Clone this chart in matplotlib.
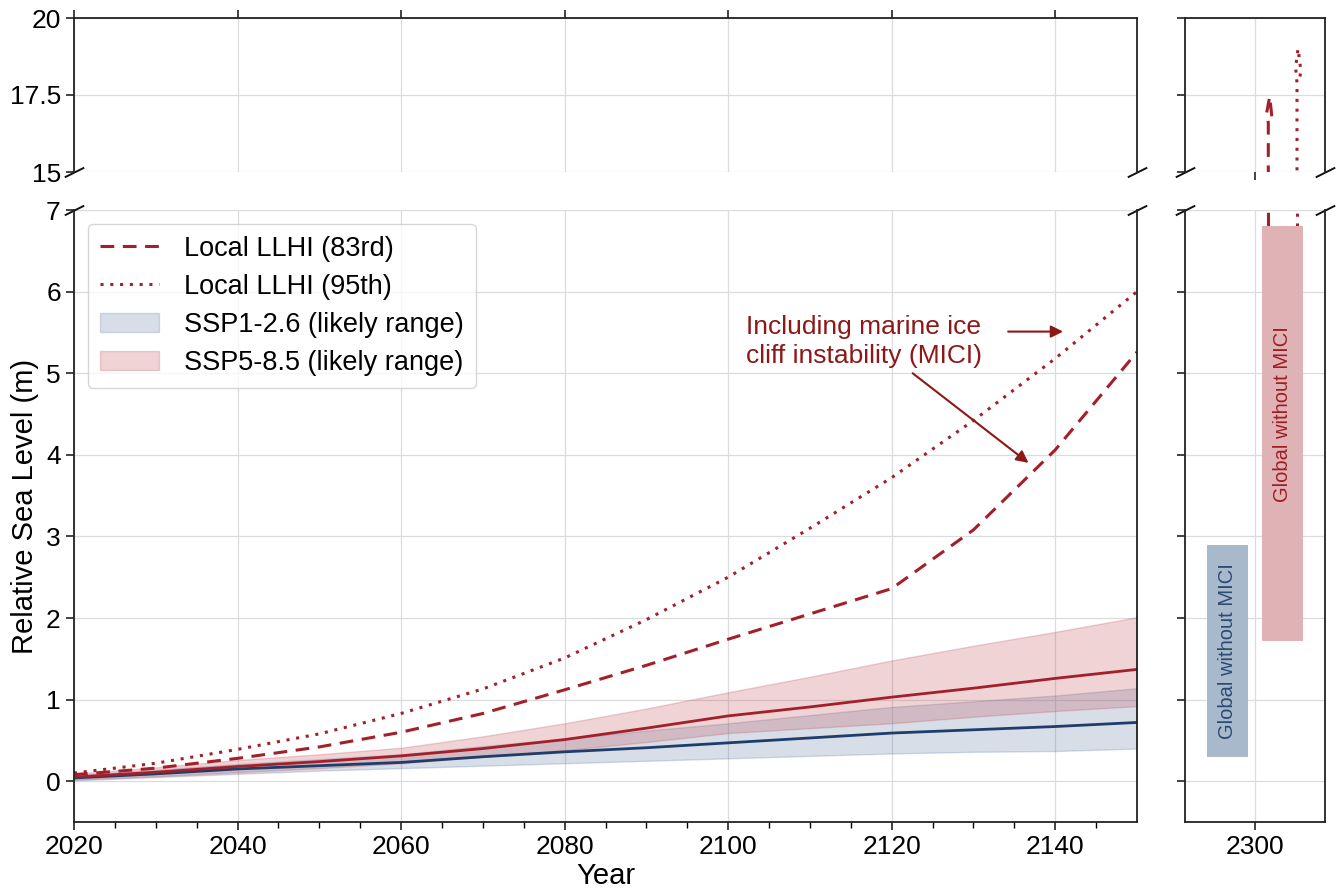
import matplotlib
matplotlib.use("Agg")
import matplotlib.pyplot as plt
import numpy as np

plt.rcParams['font.family'] = ['Liberation Sans', 'DejaVu Sans']

years = [2020, 2030, 2040, 2050, 2060, 2070, 2080, 2090, 2100, 2110, 2120, 2130, 2140, 2150]
llhi_83 = [0.08, 0.16, 0.28, 0.42, 0.60, 0.83, 1.12, 1.42, 1.74, 2.05, 2.36, 3.08, 4.06, 5.26]
llhi_95 = [0.10, 0.22, 0.39, 0.58, 0.83, 1.13, 1.51, 1.98, 2.50, 3.10, 3.72, 4.42, 5.18, 6.00]
ssp585_med = [0.05, 0.11, 0.18, 0.24, 0.31, 0.40, 0.51, 0.65, 0.80, 0.91, 1.03, 1.14, 1.26, 1.37]
ssp585_hi = [0.09, 0.17, 0.26, 0.33, 0.41, 0.55, 0.71, 0.89, 1.09, 1.28, 1.48, 1.66, 1.83, 2.01]
ssp585_lo = [0.02, 0.06, 0.11, 0.16, 0.22, 0.30, 0.38, 0.48, 0.59, 0.65, 0.71, 0.79, 0.86, 0.92]
ssp126_med = [0.04, 0.09, 0.15, 0.19, 0.23, 0.30, 0.36, 0.41, 0.47, 0.53, 0.59, 0.63, 0.67, 0.72]
ssp126_hi = [0.07, 0.14, 0.21, 0.27, 0.33, 0.43, 0.52, 0.62, 0.71, 0.81, 0.91, 0.98, 1.05, 1.14]
ssp126_lo = [0.01, 0.05, 0.09, 0.13, 0.16, 0.19, 0.22, 0.25, 0.28, 0.31, 0.34, 0.36, 0.37, 0.40]

# 2300 panel
bar_x = [2292.2, 2307.9]
bar_w = [11.6, 11.6]
bar_lo = [0.30, 1.72]
bar_hi = [2.90, 6.80]
bar_labels = ["Global without MICI", "Global without MICI"]
x2300_83 = [2303.8, 2303.8, 2303.3, 2304.2, 2305.0]
y2300_83 = [6.8, 16.6, 16.9, 17.45, 16.6]
x2300_95 = [2312.0, 2312.0, 2311.6, 2312.3, 2313.1, 2312.6]
y2300_95 = [6.8, 17.9, 18.4, 19.0, 18.3, 17.9]

red = '#a3202a'
dred = '#8e1717'
blue = '#1f3d6b'
fill_red = '#c0505a'
fill_blue = '#4a6a94'

fig = plt.figure(figsize=(13.38, 8.92), dpi=100)
W, H = 1338, 892
def rect(l, t, r, b):
    return [l / W, 1 - b / H, (r - l) / W, (b - t) / H]

ax_top = fig.add_axes(rect(74, 18, 1137, 172))
ax = fig.add_axes(rect(74, 210, 1137, 822))
ax_rtop = fig.add_axes(rect(1185, 18, 1325, 172))
ax_r = fig.add_axes(rect(1185, 210, 1325, 822))

FS = 19
for a in (ax_top, ax, ax_rtop, ax_r):
    a.grid(True, color='#dcdcdc', linewidth=0.9)
    a.set_axisbelow(True)
    for s in a.spines.values():
        s.set_linewidth(1.3)
        s.set_color('#222222')
    a.tick_params(direction='out', length=6, width=1.2, labelsize=FS, color='#222222')

# main lower panel
ax.fill_between(years, ssp126_lo, ssp126_hi, color=fill_blue, alpha=0.22, linewidth=1, edgecolor=fill_blue,
                label='SSP1-2.6 (likely range)')
ax.fill_between(years, ssp585_lo, ssp585_hi, color=fill_red, alpha=0.25, linewidth=1, edgecolor=fill_red,
                label='SSP5-8.5 (likely range)')
ax.plot(years, ssp126_med, color=blue, lw=2.0)
ax.plot(years, ssp585_med, color=red, lw=2.0)
l83, = ax.plot(years, llhi_83, color=red, lw=2.2, ls=(0, (4.5, 2.8)), label='Local LLHI (83rd)')
l95, = ax.plot(years, llhi_95, color=red, lw=2.2, ls=(0, (1, 2.2)), label='Local LLHI (95th)')

ax.set_xlim(2020, 2150)
ax.set_ylim(-0.5, 7)
ax.set_xticks([2020, 2040, 2060, 2080, 2100, 2120, 2140])
ax.set_xticks(np.arange(2025, 2150, 5), minor=True)
ax.tick_params(which='minor', direction='out', length=4, width=1.0)
ax.set_yticks(range(0, 8))
ax.spines['top'].set_visible(False)
ax.set_xlabel('Year', fontsize=21, labelpad=2)
ax.set_ylabel('Relative Sea Level (m)', fontsize=21, labelpad=6)
ax.yaxis.set_label_coords(-0.033, 0.515)

h, l = ax.get_legend_handles_labels()
order = [l.index('Local LLHI (83rd)'), l.index('Local LLHI (95th)'),
         l.index('SSP1-2.6 (likely range)'), l.index('SSP5-8.5 (likely range)')]
ax.legend([h[i] for i in order], [l[i] for i in order], loc='upper left', fontsize=19.5,
          handlelength=2.2, frameon=True, fancybox=True, edgecolor='#cccccc',
          bbox_to_anchor=(0.0, 1.0), borderpad=0.45, labelspacing=0.45, handletextpad=0.9)

ax.text(2102.2, 5.39, "Including marine ice\ncliff instability (MICI)", color=dred, fontsize=19,
        ha='left', va='center', linespacing=1.3)
ax.annotate('', xy=(2141.3, 5.51), xytext=(2133.9, 5.51),
            arrowprops=dict(arrowstyle='-|>', color=dred, lw=1.5, mutation_scale=18))
ax.annotate('', xy=(2137.0, 3.88), xytext=(2122.3, 5.02),
            arrowprops=dict(arrowstyle='-|>', color=dred, lw=1.5, mutation_scale=18))

# main upper panel
ax_top.set_xlim(2020, 2150)
ax_top.set_ylim(15, 20)
ax_top.set_yticks([15, 17.5, 20])
ax_top.set_yticklabels(['15', '17.5', '20'])
ax_top.set_xticks([2020, 2040, 2060, 2080, 2100, 2120, 2140])
ax_top.xaxis.tick_top()
ax_top.tick_params(axis='x', labeltop=False)
ax_top.spines['bottom'].set_visible(False)

# right panels
for a in (ax_r, ax_rtop):
    a.set_xlim(2280, 2320)
    a.set_xticks([2300])
ax_r.set_ylim(-0.5, 7)
ax_r.set_yticks(range(0, 8))
ax_r.tick_params(axis='y', labelleft=False)
ax_r.spines['top'].set_visible(False)
ax_rtop.set_ylim(15, 20)
ax_rtop.set_yticks([15, 17.5, 20])
ax_rtop.tick_params(axis='y', labelleft=False)
ax_rtop.tick_params(axis='x', labelbottom=False)
ax_rtop.spines['bottom'].set_visible(False)

bar_fc = ['#a9b9cc', '#dfb2b6']
txt_c = ['#2b4a74', '#a01d22']
text_y = [1.6, 4.5]
for i in range(2):
    ax_r.bar(bar_x[i], bar_hi[i] - bar_lo[i], bottom=bar_lo[i], width=bar_w[i], color=bar_fc[i], zorder=3)
    ax_r.text(bar_x[i], text_y[i], bar_labels[i], rotation=90, ha='center', va='center',
              fontsize=14.5, color=txt_c[i], zorder=4)
for a in (ax_r, ax_rtop):
    a.plot(x2300_83, y2300_83, color=red, lw=2.2, ls=(0, (4.5, 2.8)), zorder=2)
    a.plot(x2300_95, y2300_95, color=red, lw=2.2, ls=(0, (1, 2.2)), zorder=2)

# break marks
kw = dict(marker=[(-1, -0.5), (1, 0.5)], markersize=14, linestyle='none', color='#111111',
          mec='#111111', mew=1.4, clip_on=False)
for a in (ax_top, ax_rtop):
    a.plot([0, 1], [0, 0], transform=a.transAxes, **kw)
for a in (ax, ax_r):
    a.plot([0, 1], [1, 1], transform=a.transAxes, **kw)

fig.savefig('out.png', dpi=100)
